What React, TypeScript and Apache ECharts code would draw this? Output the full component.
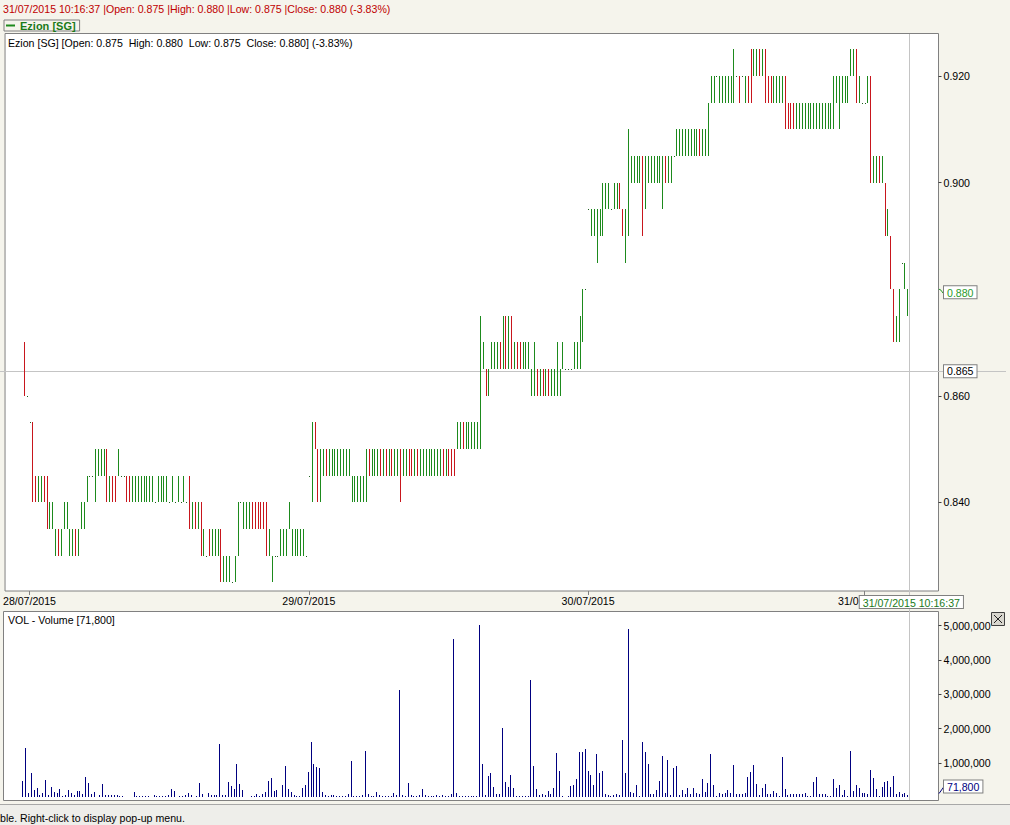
import React, { useEffect, useRef } from 'react';
import * as echarts from 'echarts';

const FONT = '"Liberation Sans", Arial, sans-serif';
const FS = 10.6;
const GREEN = '#1d8a1d';
const RED = '#c8161d';
const DOT = '#1f5f1f';
const NAVY = '#000080';
const BG = '#f5f4ec';

const headerText = '31/07/2015 10:16:37 |Open: 0.875 |High: 0.880 |Low: 0.875 |Close: 0.880 (-3.83%)';
const infoText = 'Ezion [SG] [Open: 0.875  High: 0.880  Low: 0.875  Close: 0.880] (-3.83%)';
const volTitle = 'VOL - Volume [71,800]';
const statusText = 'ble. Right-click to display pop-up menu.';
const seriesName = 'Ezion [SG]';

const dayTickIndex = [2, 100, 198, 295];
const dayTickLabels = ['28/07/2015', '29/07/2015', '30/07/2015', '31/07/2015'];
const priceTicks = [0.84, 0.86, 0.9, 0.92];
const volumeTicks = [1000000, 2000000, 3000000, 4000000, 5000000];

const lastClose = 0.88;
const lastCloseLabel = '0.880';
const lastVolume = 71800;
const lastVolumeLabel = '71,800';
const cursorIndex = 310.7;
const cursorPrice = 0.8646;
const cursorTimeLabel = '31/07/2015 10:16:37';
const cursorPriceLabel = '0.865';

// prices in thousandths of a dollar, one entry per bar
const opens = [
  870, 860, 855, 855, 845, 840, 840, 845, 845, 835,
  835, 830, 835, 830, 835, 835, 830, 830, 835, 830,
  835, 835, 840, 845, 845, 840, 845, 845, 845, 850,
  840, 845, 845, 845, 845, 845, 845, 845, 840, 840,
  840, 840, 840, 840, 840, 840, 840, 840, 840, 840,
  840, 840, 840, 840, 840, 840, 840, 840, 845, 835,
  840, 835, 840, 830, 830, 835, 830, 830, 830, 835,
  825, 825, 825, 825, 825, 830, 840, 835, 835, 835,
  840, 840, 840, 840, 840, 840, 830, 825, 830, 830,
  830, 830, 830, 835, 830, 830, 830, 830, 830, 830,
  845, 840, 855, 850, 840, 845, 850, 845, 845, 845,
  845, 845, 845, 845, 845, 840, 840, 840, 840, 840,
  840, 850, 845, 845, 845, 850, 845, 850, 845, 850,
  845, 845, 850, 845, 845, 850, 850, 845, 850, 845,
  845, 845, 845, 845, 845, 845, 845, 850, 845, 850,
  850, 850, 850, 850, 855, 850, 850, 850, 850, 850,
  850, 865, 865, 860, 865, 865, 865, 870, 865, 875,
  865, 875, 865, 870, 870, 865, 865, 865, 860, 860,
  865, 860, 865, 860, 865, 860, 860, 860, 860, 865,
  865, 865, 865, 865, 865, 865, 870, 880, 895, 890,
  890, 885, 890, 890, 895, 895, 895, 895, 895, 900,
  895, 885, 890, 900, 900, 900, 900, 905, 895, 900,
  900, 900, 900, 900, 895, 905, 900, 900, 905, 905,
  905, 905, 905, 905, 905, 905, 905, 910, 905, 905,
  905, 915, 915, 920, 915, 915, 915, 915, 915, 915,
  920, 920, 920, 915, 920, 925, 920, 920, 925, 920,
  925, 920, 920, 915, 915, 915, 915, 920, 915, 915,
  915, 910, 910, 910, 910, 910, 910, 910, 910, 910,
  910, 910, 910, 910, 910, 915, 910, 915, 915, 915,
  920, 920, 925, 915, 915, 915, 915, 920, 900, 900,
  905, 900, 900, 890, 890, 880, 870, 870, 885, 880, 875,
];

const closes = [
  860, 860, 855, 840, 840, 845, 845, 840, 835, 840,
  840, 835, 830, 835, 840, 840, 835, 835, 830, 835,
  840, 840, 845, 845, 845, 850, 850, 850, 850, 840,
  845, 840, 840, 850, 845, 845, 840, 840, 845, 845,
  845, 845, 845, 845, 845, 845, 840, 845, 845, 845,
  845, 840, 845, 840, 845, 840, 845, 840, 835, 840,
  835, 840, 830, 835, 830, 830, 835, 835, 835, 825,
  830, 830, 830, 825, 830, 840, 840, 840, 840, 840,
  835, 835, 835, 835, 835, 830, 835, 830, 830, 830,
  835, 835, 835, 840, 835, 835, 835, 835, 835, 830,
  845, 855, 850, 840, 850, 850, 845, 850, 850, 850,
  850, 850, 850, 850, 850, 845, 845, 845, 845, 845,
  850, 845, 850, 850, 850, 845, 850, 845, 850, 845,
  850, 850, 840, 850, 850, 845, 845, 850, 845, 850,
  850, 850, 850, 850, 850, 850, 850, 845, 850, 845,
  845, 845, 855, 855, 850, 855, 855, 855, 855, 855,
  875, 870, 860, 865, 870, 870, 870, 865, 875, 865,
  875, 865, 870, 865, 865, 870, 870, 870, 865, 870,
  860, 865, 860, 865, 860, 865, 865, 870, 865, 870,
  865, 865, 865, 870, 870, 875, 880, 880, 895, 895,
  895, 895, 895, 900, 900, 900, 895, 900, 900, 895,
  890, 895, 910, 905, 905, 905, 905, 890, 905, 905,
  905, 905, 905, 905, 905, 900, 905, 905, 905, 910,
  910, 910, 910, 910, 910, 910, 910, 905, 910, 910,
  915, 920, 920, 920, 920, 920, 920, 920, 920, 925,
  920, 915, 920, 920, 915, 915, 925, 925, 920, 925,
  915, 915, 915, 920, 920, 920, 920, 910, 910, 910,
  910, 915, 915, 915, 915, 915, 915, 915, 915, 915,
  915, 915, 915, 915, 920, 920, 920, 920, 920, 920,
  925, 925, 915, 920, 915, 915, 920, 900, 905, 905,
  900, 905, 890, 895, 880, 870, 875, 880, 885, 885, 880,
];

const volumes = [
  458000, 1423000, 107000, 692000, 195000, 253000, 49000, 117000, 487000, 58000,
  283000, 136000, 117000, 224000, 29000, 49000, 195000, 117000, 58000, 166000,
  166000, 97000, 575000, 410000, 78000, 136000, 0, 49000, 370000, 68000,
  68000, 68000, 68000, 68000, 39000, 39000, 0, 0, 0, 136000,
  39000, 29000, 39000, 39000, 20000, 0, 68000, 39000, 39000, 39000,
  39000, 58000, 224000, 166000, 0, 29000, 39000, 68000, 107000, 49000,
  0, 39000, 400000, 78000, 0, 107000, 58000, 49000, 49000, 1540000,
  49000, 68000, 430000, 312000, 224000, 955000, 370000, 195000, 0, 0,
  29000, 39000, 78000, 39000, 78000, 136000, 458000, 546000, 166000, 195000,
  0, 341000, 897000, 224000, 136000, 58000, 39000, 39000, 253000, 341000,
  721000, 1600000, 955000, 868000, 838000, 136000, 58000, 39000, 68000, 58000,
  39000, 39000, 39000, 39000, 78000, 1043000, 39000, 39000, 39000, 68000,
  1335000, 78000, 39000, 39000, 136000, 58000, 39000, 39000, 39000, 39000,
  107000, 58000, 3119000, 49000, 39000, 400000, 58000, 39000, 39000, 58000,
  224000, 58000, 39000, 39000, 39000, 58000, 39000, 58000, 39000, 39000,
  78000, 4610000, 107000, 39000, 39000, 39000, 39000, 39000, 39000, 39000,
  5020000, 955000, 49000, 604000, 692000, 283000, 78000, 78000, 2008000, 430000,
  283000, 634000, 253000, 20000, 20000, 39000, 29000, 39000, 3410000, 897000,
  224000, 49000, 78000, 58000, 166000, 78000, 253000, 1277000, 750000, 20000,
  0, 20000, 312000, 341000, 517000, 1306000, 1306000, 1394000, 750000, 634000,
  341000, 1248000, 692000, 750000, 78000, 49000, 20000, 49000, 78000, 49000,
  1657000, 692000, 4900000, 136000, 107000, 341000, 29000, 1600000, 1306000, 955000,
  78000, 78000, 195000, 458000, 1190000, 107000, 1072000, 49000, 838000, 897000,
  49000, 195000, 78000, 253000, 78000, 253000, 107000, 78000, 517000, 136000,
  400000, 1248000, 341000, 29000, 107000, 78000, 107000, 195000, 107000, 926000,
  78000, 78000, 78000, 107000, 575000, 721000, 926000, 370000, 49000, 253000,
  370000, 78000, 78000, 166000, 107000, 20000, 1160000, 224000, 49000, 78000,
  78000, 78000, 78000, 78000, 107000, 20000, 20000, 430000, 575000, 78000,
  78000, 78000, 20000, 20000, 517000, 253000, 341000, 49000, 195000, 20000,
  1335000, 166000, 341000, 253000, 107000, 107000, 78000, 780000, 546000, 224000,
  20000, 283000, 430000, 458000, 283000, 604000, 78000, 136000, 78000, 107000, 71800,
];

const X_MIN = -6.585;
const X_MAX = 320.93;

function txt(id: string, x: number, y: number, text: string, fill: string, extra: any = {}) {
  return {
    type: 'text', id, x, y, z: 50,
    style: { text, fill, font: `${FS}px ${FONT}`, verticalAlign: 'middle', ...extra },
  };
}

export default function App() {
  const ref = useRef<HTMLDivElement>(null);

  useEffect(() => {
    if (!ref.current) return;
    const chart = echarts.init(ref.current, undefined, { renderer: 'svg' });

    const priceData = opens.map((o, i) => [i, o / 1000, closes[i] / 1000]);
    const volData = volumes.map((v, i) => [i, v]);

    const staticGraphics: any[] = [
      txt('hdr', 3, 9, headerText, '#c00000'),
      txt('info', 8, 43, infoText, '#000'),
      txt('vol', 8, 620, volTitle, '#000'),
      { type: 'rect', id: 'statusBg', z: 40, shape: { x: 0, y: 805, width: 1010, height: 20 }, style: { fill: '#eeeeea' } },
      { type: 'line', id: 'statusLine', z: 41, shape: { x1: 0, y1: 804.5, x2: 1010, y2: 804.5 }, style: { stroke: '#a8a8a8', lineWidth: 1 } },
      txt('status', 0, 818, statusText, '#000'),
      { type: 'rect', id: 'xbtn', z: 50, shape: { x: 991.5, y: 612.5, width: 13, height: 13 }, style: { fill: '#d8d6ce', stroke: '#404040', lineWidth: 1 } },
      { type: 'line', id: 'xbtn1', z: 51, shape: { x1: 994, y1: 615, x2: 1002, y2: 623 }, style: { stroke: '#202020', lineWidth: 1 } },
      { type: 'line', id: 'xbtn2', z: 51, shape: { x1: 1002, y1: 615, x2: 994, y2: 623 }, style: { stroke: '#202020', lineWidth: 1 } },
    ];

    const option: any = {
      animation: false,
      backgroundColor: BG,
      textStyle: { fontFamily: FONT },
      legend: {
        show: true,
        data: [seriesName],
        left: 4,
        top: 20,
        icon: 'rect',
        itemWidth: 9,
        itemHeight: 2,
        borderColor: '#808080',
        borderWidth: 1,
        padding: [0, 4, 0, 2],
        selectedMode: false,
        textStyle: { color: '#1a7a1a', fontWeight: 'bold', fontSize: 11, fontFamily: FONT },
      },
      grid: [
        { left: 3.5, top: 33.5, width: 935, height: 557.5, show: true, backgroundColor: '#fff', borderColor: '#808080', borderWidth: 1 },
        { left: 3.5, top: 611.5, width: 935, height: 189, show: true, backgroundColor: '#fff', borderColor: '#808080', borderWidth: 1 },
      ],
      xAxis: [
        {
          type: 'value', gridIndex: 0, min: X_MIN, max: X_MAX, position: 'bottom',
          axisLine: { show: false, onZero: false }, splitLine: { show: false },
          axisTick: { show: true, customValues: dayTickIndex, length: 4, lineStyle: { color: '#808080' } },
          axisLabel: {
            show: true, customValues: dayTickIndex, margin: 4, color: '#000', fontSize: FS, fontFamily: FONT,
            formatter: (v: number) => dayTickLabels[dayTickIndex.indexOf(v)] ?? '',
          },
        },
        {
          type: 'value', gridIndex: 1, min: X_MIN, max: X_MAX, position: 'bottom',
          axisLine: { show: false, onZero: false }, axisTick: { show: false }, axisLabel: { show: false }, splitLine: { show: false },
        },
      ],
      yAxis: [
        {
          type: 'value', gridIndex: 0, position: 'right', min: 0.82336, max: 0.92798,
          axisLine: { show: false, onZero: false }, splitLine: { show: false },
          axisTick: { show: true, customValues: priceTicks, length: 3, lineStyle: { color: '#404040' } },
          axisLabel: {
            show: true, customValues: priceTicks, margin: 5, color: '#000', fontSize: FS, fontFamily: FONT,
            formatter: (v: number) => v.toFixed(3),
          },
        },
        {
          type: 'value', gridIndex: 1, position: 'right', min: -102000, max: 5416000,
          axisLine: { show: false, onZero: false }, splitLine: { show: false },
          axisTick: { show: true, customValues: volumeTicks, length: 3, lineStyle: { color: '#404040' } },
          axisLabel: {
            show: true, customValues: volumeTicks, margin: 5, color: '#000', fontSize: FS, fontFamily: FONT,
            formatter: (v: number) => v.toLocaleString('en-US'),
          },
        },
      ],
      series: [
        {
          name: seriesName,
          type: 'custom',
          xAxisIndex: 0,
          yAxisIndex: 0,
          data: priceData,
          itemStyle: { color: GREEN },
          z: 5,
          renderItem: (_p: any, api: any) => {
            const i = api.value(0);
            const o = api.value(1);
            const c = api.value(2);
            const hi = Math.max(o, c);
            const lo = Math.min(o, c);
            const top = api.coord([i, hi]);
            const bot = api.coord([i, lo]);
            const color = c > o ? GREEN : c < o ? RED : DOT;
            if (hi === lo) {
              return {
                type: 'rect',
                shape: { x: Math.round(top[0]), y: Math.round(top[1]), width: 1, height: 1 },
                style: { fill: color },
              };
            }
            const x = Math.round(top[0]) + 0.5;
            return {
              type: 'line',
              shape: { x1: x, y1: Math.round(top[1]), x2: x, y2: Math.round(bot[1]) },
              style: { stroke: color, lineWidth: 1 },
            };
          },
        },
        {
          name: 'Volume',
          type: 'custom',
          xAxisIndex: 1,
          yAxisIndex: 1,
          data: volData,
          itemStyle: { color: NAVY },
          z: 5,
          renderItem: (_p: any, api: any) => {
            const i = api.value(0);
            const v = api.value(1);
            if (!v) return null;
            const base = api.coord([i, 0]);
            const top = api.coord([i, v]);
            const x = Math.round(base[0]) + 0.5;
            const y0 = Math.round(base[1]);
            let y1 = Math.round(top[1]);
            if (y1 > y0 - 1) y1 = y0 - 1;
            return {
              type: 'line',
              shape: { x1: x, y1: y0, x2: x, y2: y1 },
              style: { stroke: NAVY, lineWidth: 1 },
            };
          },
        },
      ],
      graphic: { elements: staticGraphics },
    };

    chart.setOption(option);

    const cx = chart.convertToPixel({ xAxisIndex: 0 }, cursorIndex) as number;
    const cy = chart.convertToPixel({ yAxisIndex: 0 }, cursorPrice) as number;
    const ly = chart.convertToPixel({ yAxisIndex: 0 }, lastClose) as number;
    const vy = chart.convertToPixel({ yAxisIndex: 1 }, lastVolume) as number;
    const xr = Math.round(cx) + 0.5;
    const yr = Math.round(cy) + 0.5;

    const boxStyle = { backgroundColor: '#fff', borderColor: '#808080', borderWidth: 1, padding: [1, 3, 0, 3] };
    const dynamic: any[] = [
      { type: 'line', id: 'hcross', z: 1, shape: { x1: 0, y1: yr, x2: 1006, y2: yr }, style: { stroke: '#c4c4c4', lineWidth: 1 } },
      { type: 'line', id: 'vcross', z: 1, shape: { x1: xr, y1: 34, x2: xr, y2: 800 }, style: { stroke: '#c4c4c4', lineWidth: 1 } },
      txt('cursorPrice', 944, cy, cursorPriceLabel, '#000', boxStyle),
      txt('cursorTime', cx + 2, 596, cursorTimeLabel, '#1a7a1a', { ...boxStyle, align: 'center', verticalAlign: 'top' }),
      { type: 'polyline', id: 'lastConn', z: 50, shape: { points: [[939, ly], [941, ly + 1], [943, ly + 4]] }, style: { stroke: '#2a9a2a', lineWidth: 1, fill: null } },
      txt('lastClose', 944, ly - 3, lastCloseLabel, '#2a9a2a', { ...boxStyle, verticalAlign: 'top' }),
      { type: 'line', id: 'volConn', z: 50, shape: { x1: 939, y1: vy - 1, x2: 944, y2: vy - 8 }, style: { stroke: NAVY, lineWidth: 1 } },
      txt('lastVol', 944, vy - 2, lastVolumeLabel, NAVY, { ...boxStyle, verticalAlign: 'bottom' }),
    ];

    chart.setOption({ graphic: { elements: [...staticGraphics, ...dynamic] } }, { replaceMerge: ['graphic'] } as any);

    return () => chart.dispose();
  }, []);

  return <div ref={ref} style={{ position: 'fixed', left: 0, top: 0, width: 1010, height: 825 }} />;
}
